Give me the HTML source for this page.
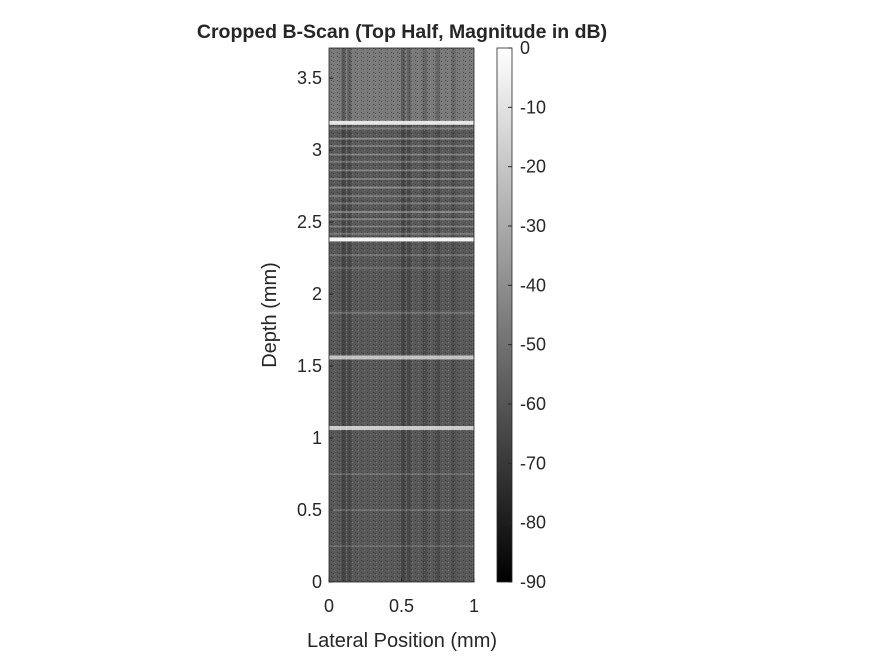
<!DOCTYPE html>
<html><head><meta charset="utf-8"><style>
body{margin:0;background:#fff;font-family:"Liberation Sans",sans-serif}
text{font-family:"Liberation Sans",sans-serif;fill:#262626}
</style></head><body>
<svg id="c" width="875" height="656" xmlns="http://www.w3.org/2000/svg">
<defs>
<linearGradient id="cb" x1="0" y1="0" x2="0" y2="1"><stop offset="0" stop-color="#fff"/><stop offset="1" stop-color="#000"/></linearGradient>
<pattern id="nz" width="6" height="4" patternUnits="userSpaceOnUse"><rect x="1" y="0" width="1" height="1" fill="#222" opacity=".5"/><rect x="4" y="2" width="1" height="1" fill="#999" opacity=".4"/><rect x="3" y="1" width="1" height="1" fill="#111" opacity=".4"/></pattern>
</defs>
<text x="402" y="38" text-anchor="middle" font-weight="bold" font-size="19.5">Cropped B-Scan (Top Half, Magnitude in dB)</text>
<g id="img"></g>
<g id="ax"></g>
<rect x="497" y="48" width="15" height="534" fill="url(#cb)" stroke="#262626" stroke-width="0.8"/>
<g id="cbax"></g>
<text x="402" y="647" text-anchor="middle" font-size="20">Lateral Position (mm)</text>
<text transform="translate(276,315) rotate(-90)" text-anchor="middle" font-size="20">Depth (mm)</text>
</svg>
<script>
const yTicks=[0,0.5,1,1.5,2,2.5,3,3.5];
const xTicks=[0,0.5,1];
const cbTicks=[0,-10,-20,-30,-40,-50,-60,-70,-80,-90];
const brightDepths=[3.19,3.15,3.08,3.03,2.97,2.92,2.86,2.8,2.74,2.68,2.63,2.57,2.52,2.47,2.42,2.38,2.27,2.18,1.87,1.56,1.07,0.75,0.5,0.25];
const brightLevels=[0.85,0.25,0.3,0.22,0.25,0.22,0.25,0.22,0.3,0.25,0.22,0.3,0.25,0.22,0.22,0.95,0.18,0.15,0.2,0.65,0.7,0.15,0.15,0.12];
const darkCols=[0.1,0.14,0.51,0.55,0.66,0.75,0.86];
const darkLevels=[0.35,0.3,0.35,0.3,0.25,0.25,0.2];
const X0=329,X1=474,Y0=582,Ymax=3.71,Y1=48;
const xs=v=>X0+v*(X1-X0), ys=v=>Y0-v/Ymax*(Y0-Y1);
const cy=v=>48+(-v)/90*534;
const NS="http://www.w3.org/2000/svg";
function mk(t,a,p){const e=document.createElementNS(NS,t);for(const k in a)e.setAttribute(k,a[k]);p.appendChild(e);return e;}
const img=document.getElementById('img'),ax=document.getElementById('ax'),cb=document.getElementById('cbax');
let r=mk('rect',{x:X0,y:Y1,width:X1-X0,height:Y0-Y1,fill:'#595959'},img);


r=mk('rect',{x:X0,y:Y1,width:X1-X0,height:ys(3.2)-Y1,fill:'#7a7a7a'},img);


darkCols.forEach((c,i)=>{const e=mk('rect',{x:xs(c)-2,y:Y1,width:4,height:Y0-Y1,fill:'#202020',opacity:darkLevels[i]},img);

});
r=mk('rect',{x:X0,y:Y1,width:X1-X0,height:Y0-Y1,fill:'url(#nz)'},img);


brightDepths.forEach((d,i)=>{const l=brightLevels[i];const e=mk('rect',{x:X0,y:ys(d)-(l>0.6?2:1),width:X1-X0,height:l>0.6?4:2,fill:'#fff',opacity:l},img);

});
r=mk('rect',{x:X0,y:Y1,width:X1-X0,height:Y0-Y1,fill:'none',stroke:'#262626','stroke-width':0.8},ax);


yTicks.forEach(v=>{const y=ys(v);mk('line',{x1:X0,x2:X0+4,y1:y,y2:y,stroke:'#262626'},ax);
const t=mk('text',{x:X0-7,y:y+6,'text-anchor':'end','font-size':18},ax);t.textContent=v;

});
xTicks.forEach(v=>{const x=xs(v);mk('line',{x1:x,x2:x,y1:Y0,y2:Y0-4,stroke:'#262626'},ax);
const t=mk('text',{x:x,y:Y0+30,'text-anchor':'middle','font-size':18},ax);t.textContent=v;

});
cbTicks.forEach(v=>{const y=cy(v);mk('line',{x1:508,x2:512,y1:y,y2:y,stroke:'#262626'},cb);
const t=mk('text',{x:520,y:y+6,'font-size':18},cb);t.textContent=v;

});
</script>
</body></html>
